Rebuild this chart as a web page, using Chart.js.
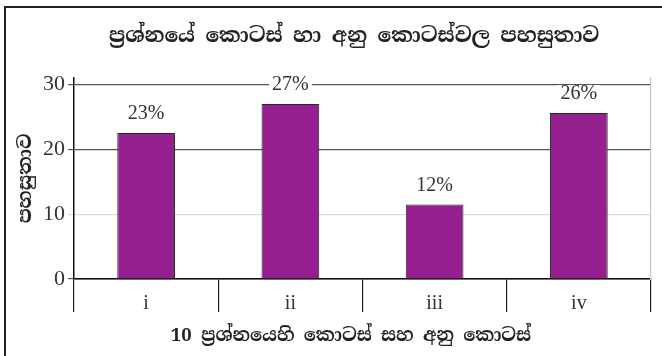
<!DOCTYPE html>
<html>
<head>
<meta charset="utf-8">
<script src="https://cdn.jsdelivr.net/npm/chart.js@4/dist/chart.umd.min.js"></script>
<style>
  html, body { margin: 0; padding: 0; background: #fff; }
  #wrap { position: relative; width: 662px; height: 356px; overflow: hidden; }
  #frame { position: absolute; left: 4px; top: 6px; width: 720px; height: 420px; border: 2.5px solid #222; }
  #chart { position: absolute; left: 0; top: 0; }
</style>
</head>
<body>
<div id="wrap">
  <div id="frame"></div>
  <canvas id="chart" width="662" height="356"></canvas>
</div>
<script>
const labels = ["i", "ii", "iii", "iv"];
const values = [22.5, 27, 11.5, 25.6];
const yTicks = [0, 10, 20, 30];

const chartTitle = "ප්‍රශ්නයේ කොටස් හා අනු කොටස්වල පහසුතාව";
const xTitle = "10 ප්‍රශ්නයෙහි කොටස් සහ අනු කොටස්";
const yTitle = "පහසුතාව";

const SERIF = '"Liberation Serif", "DejaVu Serif", serif';
const SINHALA = '"Noto Serif Sinhala", "Noto Sans Sinhala", "Liberation Serif", serif';

/* chart title and x title, placed by hand */
const titles = {
    id: "titles",
    afterDraw(chart) {
        const ctx = chart.ctx;
        ctx.save();
        ctx.fillStyle = "#222";
        ctx.textAlign = "center";
        ctx.textBaseline = "middle";
        ctx.font = "bold 21px " + SINHALA;
        ctx.fillText(chartTitle, 354, 36);
        ctx.font = "bold 18.5px " + SINHALA;
        ctx.fillText(xTitle, 351, 336);
        ctx.restore();
    }
};

/* percent labels on top of bars, white box behind */
const barLabels = {
    id: "barLabels",
    afterDatasetsDraw(chart) {
        const ctx = chart.ctx;
        const meta = chart.getDatasetMeta(0);
        ctx.save();
        ctx.font = "20px " + SERIF;
        ctx.textAlign = "center";
        ctx.textBaseline = "middle";
        meta.data.forEach((bar, i) => {
            const txt = Math.round(values[i]) + "%";
            const w = ctx.measureText(txt).width;
            const y = bar.y - 19;
            ctx.fillStyle = "#fff";
            ctx.fillRect(bar.x - w / 2 - 3, y - 9, w + 6, 17);
            ctx.fillStyle = "#333";
            ctx.fillText(txt, bar.x, y);
        });
        ctx.restore();
    }
};

new Chart(document.getElementById("chart"), {
    type: "bar",
    data: {
        labels,
        datasets: [{
            data: values,
            backgroundColor: "#951f8e",
            borderColor: "#2a2a2a",
            borderWidth: 1,
            categoryPercentage: 1,
            barPercentage: 0.4
        }]
    },
    options: {
        responsive: false,
        animation: false,
        layout: { padding: { left: 8, top: 78, right: 11, bottom: 4 } },
        plugins: {
            legend: { display: false },
            tooltip: { enabled: false },
            title: { display: false }
        },
        scales: {
            x: {
                grid: {
                    offset: true,
                    drawOnChartArea: false,
                    tickLength: 33,
                    color: "#222",
                    lineWidth: 1.2
                },
                border: { color: "#111", width: 1.5 },
                ticks: {
                    padding: -20,
                    color: "#333",
                    font: { family: SERIF, size: 20 }
                },
                afterFit: s => { s.height = 73; }
            },
            y: {
                min: 0,
                max: 31,
                afterBuildTicks: s => { s.ticks = yTicks.map(v => ({ value: v })); },
                grid: {
                    tickLength: 6,
                    lineWidth: 1.2,
                    color: c => c.tick && c.tick.value === 10 ? "#dcdcdc" : "#555"
                },
                border: { color: "#111", width: 1.5 },
                ticks: {
                    padding: 3,
                    color: "#333",
                    font: { family: SERIF, size: 22 }
                },
                title: {
                    display: true,
                    text: yTitle,
                    color: "#222",
                    font: { family: SINHALA, size: 19, weight: "bold", lineHeight: 1.2 },
                    padding: { top: 6.5, bottom: 0 }
                },
                afterFit: s => { s.width = 66; }
            },
            yRight: {
                position: "right",
                min: 0,
                max: 31,
                grid: { display: false },
                ticks: { display: false },
                border: { color: "#c8c8c8", width: 1.2 },
                afterFit: s => { s.width = 0; }
            }
        }
    },
    plugins: [barLabels, titles]
});
</script>
</body>
</html>
